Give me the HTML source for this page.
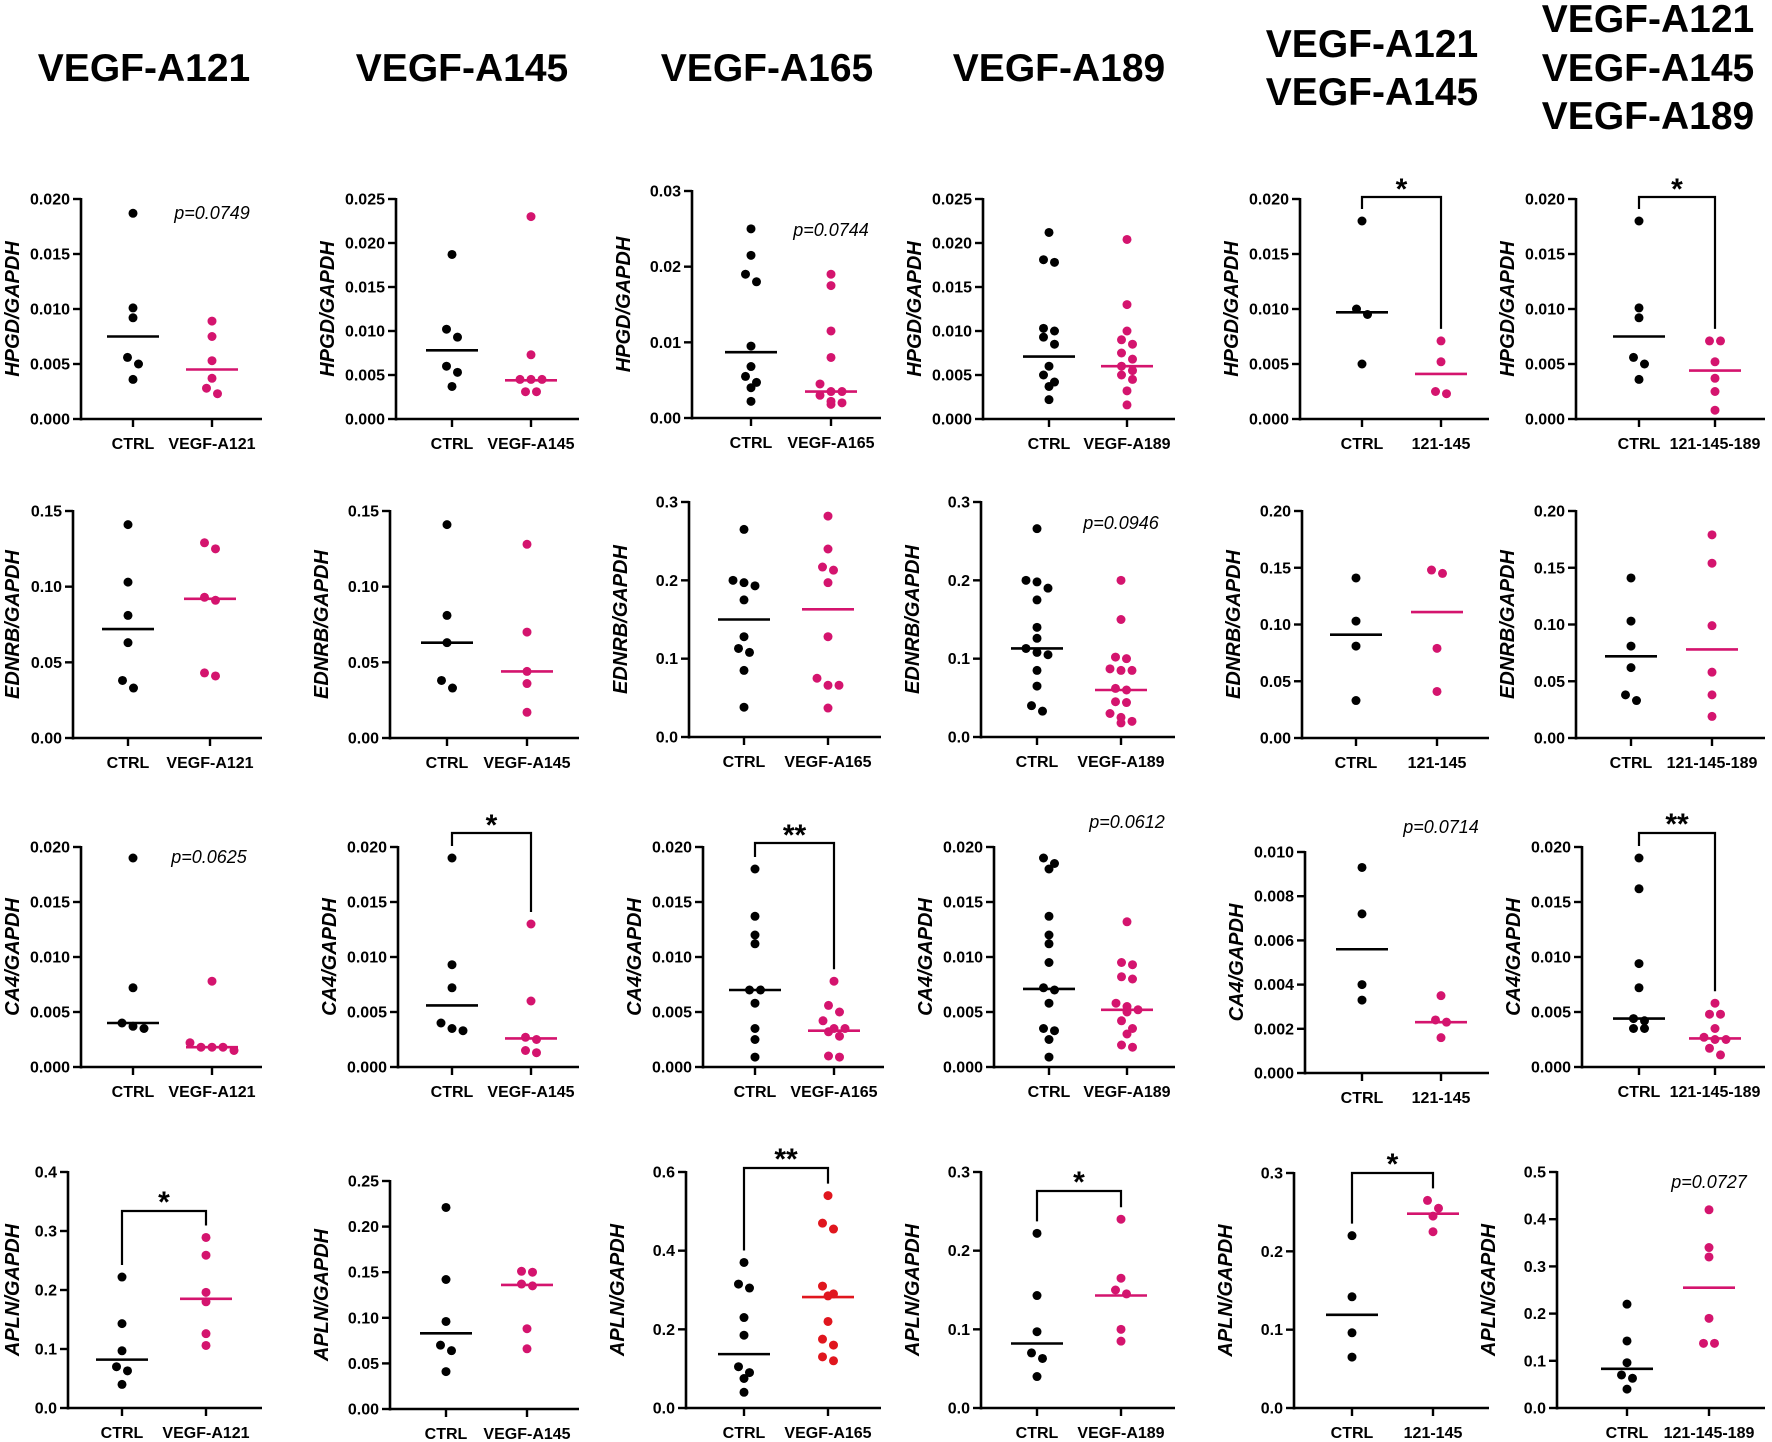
<!DOCTYPE html>
<html><head><meta charset="utf-8"><style>
html,body{margin:0;padding:0;background:#fff}
svg{display:block;font-family:"Liberation Sans",Arial,sans-serif}
.ti{font-size:39px;font-weight:bold;text-anchor:middle}
.t{font-size:16px;font-weight:bold;text-anchor:end}
.xl{font-size:16px;font-weight:bold;text-anchor:middle}
.yt{font-size:20px;font-weight:bold;font-style:italic;text-anchor:middle}
.pv{font-size:18px;font-style:italic;text-anchor:middle}
.st{font-size:30px;font-weight:bold;text-anchor:middle}
</style></head><body>
<svg id="s" xmlns="http://www.w3.org/2000/svg" width="1772" height="1442" viewBox="0 0 1772 1442">
<text class="ti" x="144" y="81">VEGF-A121</text>
<text class="ti" x="462" y="81">VEGF-A145</text>
<text class="ti" x="767" y="81">VEGF-A165</text>
<text class="ti" x="1059" y="81">VEGF-A189</text>
<text class="ti" x="1372" y="57">VEGF-A121</text>
<text class="ti" x="1372" y="105">VEGF-A145</text>
<text class="ti" x="1648" y="32">VEGF-A121</text>
<text class="ti" x="1648" y="81">VEGF-A145</text>
<text class="ti" x="1648" y="129">VEGF-A189</text>

<!-- Row 1 -->
<g class="pn"><text class="t">0.000</text><text class="t">0.005</text><text class="t">0.010</text><text class="t">0.015</text><text class="t">0.020</text><text class="xl">CTRL</text><text class="xl">VEGF-A121</text><text class="yt">HPGD/GAPDH</text><text class="pv">p=0.0749</text></g>
<g class="pn"><text class="t">0.000</text><text class="t">0.005</text><text class="t">0.010</text><text class="t">0.015</text><text class="t">0.020</text><text class="t">0.025</text><text class="xl">CTRL</text><text class="xl">VEGF-A145</text><text class="yt">HPGD/GAPDH</text></g>
<g class="pn"><text class="t">0.00</text><text class="t">0.01</text><text class="t">0.02</text><text class="t">0.03</text><text class="xl">CTRL</text><text class="xl">VEGF-A165</text><text class="yt">HPGD/GAPDH</text><text class="pv">p=0.0744</text></g>
<g class="pn"><text class="t">0.000</text><text class="t">0.005</text><text class="t">0.010</text><text class="t">0.015</text><text class="t">0.020</text><text class="t">0.025</text><text class="xl">CTRL</text><text class="xl">VEGF-A189</text><text class="yt">HPGD/GAPDH</text></g>
<g class="pn"><text class="t">0.000</text><text class="t">0.005</text><text class="t">0.010</text><text class="t">0.015</text><text class="t">0.020</text><text class="xl">CTRL</text><text class="xl">121-145</text><text class="yt">HPGD/GAPDH</text><text class="st">*</text></g>
<g class="pn"><text class="t">0.000</text><text class="t">0.005</text><text class="t">0.010</text><text class="t">0.015</text><text class="t">0.020</text><text class="xl">CTRL</text><text class="xl">121-145-189</text><text class="yt">HPGD/GAPDH</text><text class="st">*</text></g>
<!-- Row 2 -->
<g class="pn"><text class="t">0.00</text><text class="t">0.05</text><text class="t">0.10</text><text class="t">0.15</text><text class="xl">CTRL</text><text class="xl">VEGF-A121</text><text class="yt">EDNRB/GAPDH</text></g>
<g class="pn"><text class="t">0.00</text><text class="t">0.05</text><text class="t">0.10</text><text class="t">0.15</text><text class="xl">CTRL</text><text class="xl">VEGF-A145</text><text class="yt">EDNRB/GAPDH</text></g>
<g class="pn"><text class="t">0.0</text><text class="t">0.1</text><text class="t">0.2</text><text class="t">0.3</text><text class="xl">CTRL</text><text class="xl">VEGF-A165</text><text class="yt">EDNRB/GAPDH</text></g>
<g class="pn"><text class="t">0.0</text><text class="t">0.1</text><text class="t">0.2</text><text class="t">0.3</text><text class="xl">CTRL</text><text class="xl">VEGF-A189</text><text class="yt">EDNRB/GAPDH</text><text class="pv">p=0.0946</text></g>
<g class="pn"><text class="t">0.00</text><text class="t">0.05</text><text class="t">0.10</text><text class="t">0.15</text><text class="t">0.20</text><text class="xl">CTRL</text><text class="xl">121-145</text><text class="yt">EDNRB/GAPDH</text></g>
<g class="pn"><text class="t">0.00</text><text class="t">0.05</text><text class="t">0.10</text><text class="t">0.15</text><text class="t">0.20</text><text class="xl">CTRL</text><text class="xl">121-145-189</text><text class="yt">EDNRB/GAPDH</text></g>
<!-- Row 3 -->
<g class="pn"><text class="t">0.000</text><text class="t">0.005</text><text class="t">0.010</text><text class="t">0.015</text><text class="t">0.020</text><text class="xl">CTRL</text><text class="xl">VEGF-A121</text><text class="yt">CA4/GAPDH</text><text class="pv">p=0.0625</text></g>
<g class="pn"><text class="t">0.000</text><text class="t">0.005</text><text class="t">0.010</text><text class="t">0.015</text><text class="t">0.020</text><text class="xl">CTRL</text><text class="xl">VEGF-A145</text><text class="yt">CA4/GAPDH</text><text class="st">*</text></g>
<g class="pn"><text class="t">0.000</text><text class="t">0.005</text><text class="t">0.010</text><text class="t">0.015</text><text class="t">0.020</text><text class="xl">CTRL</text><text class="xl">VEGF-A165</text><text class="yt">CA4/GAPDH</text><text class="st">**</text></g>
<g class="pn"><text class="t">0.000</text><text class="t">0.005</text><text class="t">0.010</text><text class="t">0.015</text><text class="t">0.020</text><text class="xl">CTRL</text><text class="xl">VEGF-A189</text><text class="yt">CA4/GAPDH</text><text class="pv">p=0.0612</text></g>
<g class="pn"><text class="t">0.000</text><text class="t">0.002</text><text class="t">0.004</text><text class="t">0.006</text><text class="t">0.008</text><text class="t">0.010</text><text class="xl">CTRL</text><text class="xl">121-145</text><text class="yt">CA4/GAPDH</text><text class="pv">p=0.0714</text></g>
<g class="pn"><text class="t">0.000</text><text class="t">0.005</text><text class="t">0.010</text><text class="t">0.015</text><text class="t">0.020</text><text class="xl">CTRL</text><text class="xl">121-145-189</text><text class="yt">CA4/GAPDH</text><text class="st">**</text></g>
<!-- Row 4 -->
<g class="pn"><text class="t">0.0</text><text class="t">0.1</text><text class="t">0.2</text><text class="t">0.3</text><text class="t">0.4</text><text class="xl">CTRL</text><text class="xl">VEGF-A121</text><text class="yt">APLN/GAPDH</text><text class="st">*</text></g>
<g class="pn"><text class="t">0.00</text><text class="t">0.05</text><text class="t">0.10</text><text class="t">0.15</text><text class="t">0.20</text><text class="t">0.25</text><text class="xl">CTRL</text><text class="xl">VEGF-A145</text><text class="yt">APLN/GAPDH</text></g>
<g class="pn"><text class="t">0.0</text><text class="t">0.2</text><text class="t">0.4</text><text class="t">0.6</text><text class="xl">CTRL</text><text class="xl">VEGF-A165</text><text class="yt">APLN/GAPDH</text><text class="st">**</text></g>
<g class="pn"><text class="t">0.0</text><text class="t">0.1</text><text class="t">0.2</text><text class="t">0.3</text><text class="xl">CTRL</text><text class="xl">VEGF-A189</text><text class="yt">APLN/GAPDH</text><text class="st">*</text></g>
<g class="pn"><text class="t">0.0</text><text class="t">0.1</text><text class="t">0.2</text><text class="t">0.3</text><text class="xl">CTRL</text><text class="xl">121-145</text><text class="yt">APLN/GAPDH</text><text class="st">*</text></g>
<g class="pn"><text class="t">0.0</text><text class="t">0.1</text><text class="t">0.2</text><text class="t">0.3</text><text class="t">0.4</text><text class="t">0.5</text><text class="xl">CTRL</text><text class="xl">121-145-189</text><text class="yt">APLN/GAPDH</text><text class="pv">p=0.0727</text></g>
</svg>
<script>
var PK="#d4146e",RD="#e0161e";
function p(A,E,C,T,top,bot,max,c,t,mc,mt,o){o=o||{};return {A:A,E:E,C:C,T:T,top:top,bot:bot,max:max,c:c,t:t,mc:mc,mt:mt,br:o.br,bs:o.bs,pv:o.pv,col:o.col||PK};}
var P=[
p(81,262,133,212,199,419,.02,[.0187,.0101,.0092,.0056,.0050,.0036],[.0089,.0075,.0053,.0037,.0028,.0023],.0075,.0045,{pv:[212,213]}),
p(396,579,452,531,199,419,.025,[.0187,.0102,.0093,.0060,.0053,.0037],[.023,.0073,.0045,.0045,.0045,.0031,.0031],.0078,.0044),
p(692,881,751,831,191,418,.03,[.025,.0215,.019,.018,.0095,.0068,.0055,.0047,.0040,.0022],[.019,.0175,.0115,.0080,.0045,.0035,.0035,.0030,.0022,.0020,.0018],.0087,.0035,{pv:[831,230]}),
p(983,1175,1049,1127,199,419,.025,[.0212,.0181,.0178,.0103,.0100,.0093,.0085,.0060,.0050,.0042,.0037,.0022],[.0204,.0130,.0100,.0090,.0085,.0075,.0068,.0060,.0055,.0050,.0045,.0032,.0016],.0071,.0060),
p(1300,1489,1362,1441,199,419,.02,[.018,.0100,.0095,.0050],[.0071,.0052,.0025,.0023],.0097,.0041,{br:197,bs:182}),
p(1576,1765,1639,1715,199,419,.02,[.018,.0101,.0092,.0056,.0050,.0036],[.0071,.0071,.0052,.0037,.0025,.0008],.0075,.0044,{br:197,bs:182}),
p(73,262,128,210,511,738,.15,[.141,.103,.081,.063,.038,.033],[.129,.125,.093,.091,.043,.041],.072,.092),
p(390,579,447,527,511,738,.15,[.141,.081,.063,.038,.033],[.128,.070,.044,.036,.017],.063,.044),
p(689,881,744,828,502,737,.3,[.265,.200,.197,.193,.175,.128,.113,.108,.085,.038],[.282,.240,.217,.213,.197,.128,.075,.066,.066,.037],.150,.163),
p(981,1175,1037,1121,502,737,.3,[.266,.200,.198,.190,.175,.140,.126,.113,.108,.105,.085,.065,.040,.033],[.200,.150,.102,.100,.087,.085,.085,.062,.060,.045,.044,.030,.025,.020,.018],.113,.060,{pv:[1121,523]}),
p(1302,1489,1356,1437,511,738,.2,[.141,.103,.081,.033],[.148,.145,.079,.041],.091,.111),
p(1576,1765,1631,1712,511,738,.2,[.141,.103,.081,.062,.038,.033],[.179,.154,.099,.058,.038,.019],.072,.078),
p(81,262,133,212,847,1067,.02,[.019,.0072,.0040,.0037,.0035],[.0078,.0022,.0018,.0018,.0018,.0015],.0040,.0018,{pv:[209,857]}),
p(398,579,452,531,847,1067,.02,[.019,.0093,.0072,.0040,.0035,.0033],[.013,.0060,.0027,.0025,.0015,.0013],.0056,.0026,{br:833,bs:818}),
p(703,884,755,834,847,1067,.02,[.018,.0137,.0120,.0112,.0070,.0070,.0058,.0035,.0025,.0009],[.0078,.0056,.0050,.0042,.0035,.0035,.0032,.0028,.0010,.0009],.0070,.0033,{br:843,bs:828}),
p(994,1175,1049,1127,847,1067,.02,[.019,.0185,.0180,.0137,.0120,.0112,.0095,.0072,.0070,.0058,.0035,.0033,.0025,.0009],[.0132,.0095,.0093,.0082,.0080,.0058,.0055,.0052,.0050,.0042,.0035,.0030,.0020,.0018],.0071,.0052,{pv:[1127,822]}),
p(1305,1489,1362,1441,852,1073,.01,[.0093,.0072,.0040,.0033],[.0035,.0024,.0023,.0016],.0056,.0023,{pv:[1441,827]}),
p(1582,1765,1639,1715,847,1067,.02,[.019,.0162,.0094,.0072,.0044,.0042,.0035,.0035],[.0058,.0048,.0048,.0035,.0027,.0025,.0025,.0017,.0011],.0044,.0026,{br:833,bs:817}),
p(68,262,122,206,1172,1408,.4,[.222,.143,.097,.070,.063,.040],[.289,.259,.196,.180,.126,.106],.082,.185,{br:1211,bs:1195}),
p(390,579,446,527,1181,1409,.25,[.221,.142,.096,.070,.064,.041],[.151,.150,.137,.135,.088,.066],.083,.136),
p(686,881,744,828,1172,1408,.6,[.37,.315,.305,.23,.185,.105,.09,.075,.04],[.54,.47,.455,.31,.29,.285,.22,.175,.16,.13,.12],.137,.282,{br:1168,bs:1152,col:RD}),
p(981,1175,1037,1121,1172,1408,.3,[.222,.143,.097,.070,.063,.040],[.24,.165,.15,.145,.10,.085],.082,.143,{br:1191,bs:1175}),
p(1294,1489,1352,1433,1173,1408,.3,[.22,.142,.096,.065],[.265,.255,.245,.225],.119,.248,{br:1173,bs:1157}),
p(1557,1765,1627,1709,1172,1408,.5,[.22,.142,.096,.07,.063,.04],[.42,.34,.32,.19,.137,.137],.083,.255,{pv:[1709,1182]})
];
var NS="http://www.w3.org/2000/svg";
function el(g,n,a){var e=document.createElementNS(NS,n);for(var k in a)e.setAttribute(k,a[k]);g.appendChild(e);return e;}
function ln(g,x1,y1,x2,y2,w,c){return el(g,"line",{x1:x1,y1:y1,x2:x2,y2:y2,stroke:c||"#000","stroke-width":w||2.5});}
var gs=document.querySelectorAll("g.pn");
P.forEach(function(q,i){
 var g=gs[i];var Y=function(v){return q.bot-(v/q.max)*(q.bot-q.top);};
 ln(g,q.A,q.top-1,q.A,q.bot+1.5,2.6);ln(g,q.A-1,q.bot,q.E,q.bot,2.6);
 var ts=g.querySelectorAll(".t");var n=ts.length;
 for(var k=0;k<n;k++){var y=Y(q.max*k/(n-1));ln(g,q.A-8,y,q.A,y,2.4);ts[k].setAttribute("x",q.A-11);ts[k].setAttribute("y",y+5.5);}
 ln(g,q.C,q.bot,q.C,q.bot+8,2.4);ln(g,q.T,q.bot,q.T,q.bot+8,2.4);
 var xl=g.querySelectorAll(".xl");xl[0].setAttribute("x",q.C);xl[0].setAttribute("y",q.bot+30);xl[1].setAttribute("x",q.T);xl[1].setAttribute("y",q.bot+30);
 var yt=g.querySelector(".yt");var cy=(q.top+q.bot)/2,cx=Math.max(q.A-62,19);yt.setAttribute("x",cx);yt.setAttribute("y",cy);yt.setAttribute("transform","rotate(-90 "+cx+" "+cy+")");
 function dots(vals,x,col){var ys=vals.map(Y).sort(function(a,b){return a-b;});var cl=[];ys.forEach(function(y){var last=cl[cl.length-1];if(last&&y-last[0]<8.5)last.push(y);else cl.push([y]);});
  cl.forEach(function(c){var m=c.length;c.forEach(function(y,j){el(g,"circle",{cx:x+(j-(m-1)/2)*11,cy:y,r:4.5,fill:col});});});}
 dots(q.c,q.C,"#000");dots(q.t,q.T,q.col);
 ln(g,q.C-26,Y(q.mc),q.C+26,Y(q.mc),2.6,"#000");ln(g,q.T-26,Y(q.mt),q.T+26,Y(q.mt),2.6,q.col);
 if(q.br){var lb=Math.min.apply(null,q.c.map(Y))-12,rb=Math.min.apply(null,q.t.map(Y))-12;
  el(g,"polyline",{points:q.C+","+lb+" "+q.C+","+q.br+" "+q.T+","+q.br+" "+q.T+","+rb,fill:"none",stroke:"#000","stroke-width":2.2});
  var st=g.querySelector(".st");st.setAttribute("x",(q.C+q.T)/2);st.setAttribute("y",q.bs+17);}
 if(q.pv){var pv=g.querySelector(".pv");pv.setAttribute("x",q.pv[0]);pv.setAttribute("y",q.pv[1]+6);}
});
</script>
</body></html>
